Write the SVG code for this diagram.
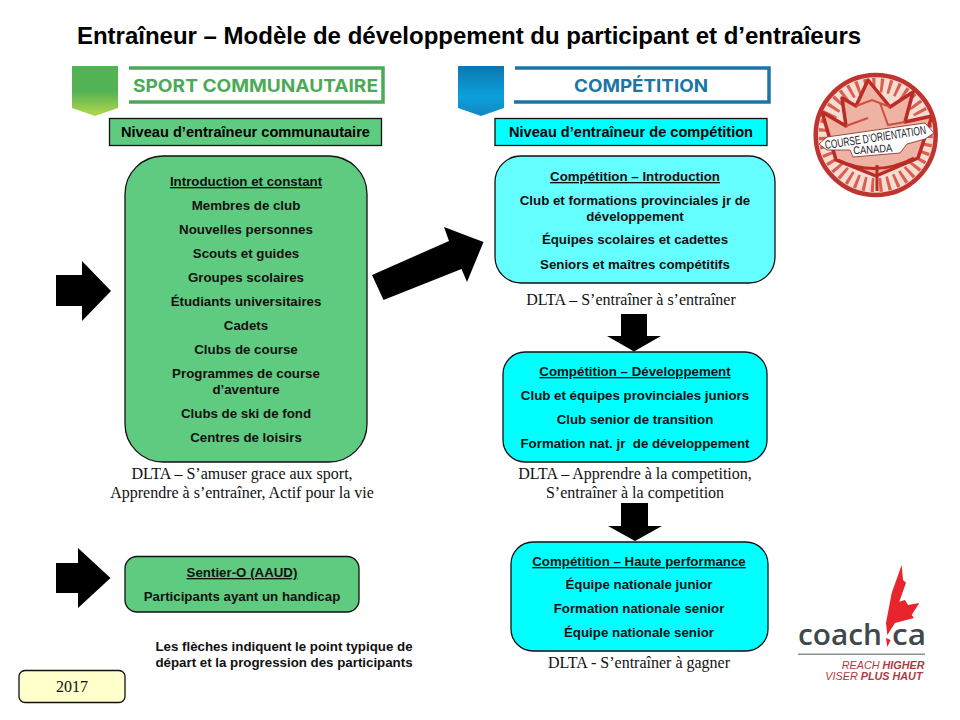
<svg xmlns="http://www.w3.org/2000/svg" width="960" height="720" viewBox="0 0 960 720">
<style>
text{font-family:"Liberation Sans",Arial,sans-serif;text-anchor:middle;fill:#000}
.b{font-size:13.300px;font-weight:bold;fill:#111;white-space:pre}
.u{text-decoration:underline}
.s{font-family:"Liberation Serif","Times New Roman",serif;font-size:16px;fill:#111}
.g{fill:#5fcb80;stroke:#111;stroke-width:1.3}
.c{fill:#00ffff;stroke:#111;stroke-width:1.3}
.c2{fill:#66ffff;stroke:#111;stroke-width:1.3}
.ar{fill:#000}
.ban{font-family:Inter,"Liberation Sans",sans-serif;font-size:17.500px;font-weight:700}
.coach{font-family:"Open Sans","Liberation Sans",sans-serif;font-size:28px;font-weight:600;fill:#41484d}
.tag{font-size:10.800px;font-style:italic;text-anchor:end;fill:#b03a42}
.nar{fill:#222}
</style>
<defs>
<linearGradient id="gs" x1="0" y1="0" x2="0" y2="1"><stop offset="0.5" stop-color="#53b254"/><stop offset="1" stop-color="#b5d84c"/></linearGradient>
<linearGradient id="bs" x1="0" y1="0" x2="0" y2="1"><stop offset="0" stop-color="#0c76ae"/><stop offset="0.6" stop-color="#0ba0dc"/><stop offset="1" stop-color="#1487c4"/></linearGradient>
</defs>
<rect width="960" height="720" fill="#fff"/>
<text id="title" x="469" y="44" style="font-size:24px;font-weight:bold">Entraîneur – Modèle de développement du participant et d’entraîeurs</text>

<g id="banner-sport">
<path d="M72 66H118V108L95 116L72 108Z" fill="url(#gs)"/>
<path d="M129 68H383V102H129" fill="none" stroke="#4ca957" stroke-width="3.5"/>
<text x="255.500" y="92" class="ban" style="fill:#4ca957" textLength="245" lengthAdjust="spacingAndGlyphs">SPORT COMMUNAUTAIRE</text>
</g>
<g id="banner-competition">
<path d="M458 66H504V108L481 116L458 108Z" fill="url(#bs)"/>
<path d="M515 68H769V102H514" fill="none" stroke="#1b76a5" stroke-width="3.5"/>
<text x="641" y="92" class="ban" style="fill:#1b76a5" textLength="134" lengthAdjust="spacingAndGlyphs">COMPÉTITION</text>
</g>

<g id="level-community">
<rect x="109.500" y="118.500" width="272" height="27" class="g"/>
<text x="245.500" y="137" style="font-size:14.600px;font-weight:bold">Niveau d’entraîneur communautaire</text>
</g>
<g id="level-competition">
<rect x="495" y="118.500" width="272" height="27" class="c"/>
<text x="631" y="137" style="font-size:14.600px;font-weight:bold">Niveau d’entraîneur de compétition</text>
</g>

<g id="node-intro">
<rect x="125" y="156" width="242" height="306" rx="38" class="g"/>
<text x="246" y="186" class="b u">Introduction et constant</text>
<text x="246" y="210" class="b">Membres de club</text>
<text x="246" y="234" class="b">Nouvelles personnes</text>
<text x="246" y="258" class="b">Scouts et guides</text>
<text x="246" y="282" class="b">Groupes scolaires</text>
<text x="246" y="306" class="b">Étudiants universitaires</text>
<text x="246" y="330" class="b">Cadets</text>
<text x="246" y="354" class="b">Clubs de course</text>
<text x="246" y="378" class="b">Programmes de course</text>
<text x="246" y="394" class="b">d’aventure</text>
<text x="246" y="418" class="b">Clubs de ski de fond</text>
<text x="246" y="442" class="b">Centres de loisirs</text>
</g>
<text id="dlta-1" x="242" y="479" class="s">DLTA – S’amuser grace aux sport,</text>
<text id="dlta-1b" x="242" y="498" class="s">Apprendre à s’entraîner, Actif pour la vie</text>

<g id="node-sentier">
<rect x="125" y="556.500" width="234" height="55.500" rx="12" class="g"/>
<text x="242" y="577" class="b u">Sentier-O (AAUD)</text>
<text x="242" y="601" class="b">Participants ayant un handicap</text>
</g>
<text id="note-1" x="284" y="651" class="b">Les flèches indiquent le point typique de</text>
<text id="note-2" x="284" y="667" class="b">départ et la progression des participants</text>
<g id="year">
<rect x="19" y="670.500" width="106" height="32" rx="6" fill="#ffffcc" stroke="#111" stroke-width="1.300"/>
<text x="72" y="692" class="s">2017</text>
</g>

<g id="node-comp-intro">
<rect x="495" y="156" width="280" height="127" rx="26" class="c2"/>
<text x="635" y="181" class="b u">Compétition – Introduction</text>
<text x="635" y="205" class="b">Club et formations provinciales jr de</text>
<text x="635" y="221" class="b">développement</text>
<text x="635" y="244" class="b">Équipes scolaires et cadettes</text>
<text x="635" y="269" class="b">Seniors et maîtres compétitifs</text>
</g>
<text id="dlta-2" x="631" y="305" class="s">DLTA – S’entraîner à s’entraîner</text>

<g id="node-comp-dev">
<rect x="503" y="352" width="264" height="110" rx="22" class="c"/>
<text x="635" y="376" class="b u">Compétition – Développement</text>
<text x="635" y="400" class="b">Club et équipes provinciales juniors</text>
<text x="635" y="424" class="b">Club senior de transition</text>
<text x="635" y="448" class="b">Formation nat. jr  de développement</text>
</g>
<text id="dlta-3" x="635" y="479" class="s">DLTA – Apprendre à la competition,</text>
<text id="dlta-3b" x="635" y="498" class="s">S’entraîner à la competition</text>

<g id="node-comp-hp">
<rect x="511" y="542" width="257" height="109" rx="22" class="c"/>
<text x="639" y="566" class="b u">Compétition – Haute performance</text>
<text x="639" y="589" class="b">Équipe nationale junior</text>
<text x="639" y="613" class="b">Formation nationale senior</text>
<text x="639" y="637" class="b">Équipe nationale senior</text>
</g>
<text id="dlta-4" x="639" y="668" class="s">DLTA - S’entraîner à gagner</text>

<g id="connectors">
<path class="ar" d="M56 275H82V261L111 291L82 321V306H56Z"/>
<path class="ar" d="M56 563H78V548L110.500 578L78 608V593H56Z"/>
<path class="ar" d="M372 275L449 241L444 227L483.500 242L467 282L461.500 269L383.500 300Z"/>
<path class="ar" d="M621 314H647V336H661L634 351.500L607 336H621Z"/>
<path class="ar" d="M621 503H648V526H662L635 541L608 526H621Z"/>
</g>

<g id="logo-orienteering">
<circle cx="875.700" cy="135" r="58" fill="#f6dcd3"/>
<circle cx="875.700" cy="135" r="50" fill="none" stroke="#d9604f" stroke-width="14" stroke-dasharray="3 5"/>
<path d="M868 80L856 106L842 98L846 126L822 112L836 160L876 176L918 158L932 116L905 122L913 92L890 107Z" fill="#efb3a3" stroke="#bb2c26" stroke-width="3.500" stroke-linejoin="round"/>
<path d="M856 106L872 100L890 107M880 103L888 125L905 122M846 126L868 118" fill="none" stroke="#cf4f40" stroke-width="2"/>
<path d="M838 160Q876 178 914 158M877 165V191" fill="none" stroke="#bb2c26" stroke-width="3"/>
<circle cx="875.700" cy="135" r="60" fill="none" stroke="#c0342f" stroke-width="4.500"/>
<path d="M819 144L827 137L925 123L934 133L925 139L907 144L900 153L853 157L850 150L827 150Z" fill="#fff" stroke="#7d2a26" stroke-width="0.800"/>
<text transform="translate(876 141.500) rotate(-8.500) scale(0.7 1)" class="nar" style="font-size:12px">COURSE D’ORIENTATION</text>
<text transform="translate(873 153) rotate(-4) scale(0.85 1)" class="nar" style="font-size:11px">CANADA</text>
</g>

<g id="logo-coach">
<path d="M901.700 565L903 580L906 582.700L899.300 601.700L905 600L908 605L919.300 603L911.700 615L914 618L895 623L887.300 635L886 623L891.700 593Z" fill="#e8242c"/>
<path d="M886 638L890.700 640L887.300 647Z" fill="#e8242c"/>
<text x="840" y="645" class="coach" textLength="84" lengthAdjust="spacingAndGlyphs">coach</text>
<text x="909" y="645" class="coach" textLength="34" lengthAdjust="spacingAndGlyphs">ca</text>
<rect x="798" y="653.500" width="127" height="1.500" fill="#8a8f92"/>
<text x="924.500" y="668.500" class="tag">REACH <tspan font-weight="bold">HIGHER</tspan></text>
<text x="922.500" y="680" class="tag">VISER <tspan font-weight="bold">PLUS HAUT</tspan></text>
</g>
</svg>
